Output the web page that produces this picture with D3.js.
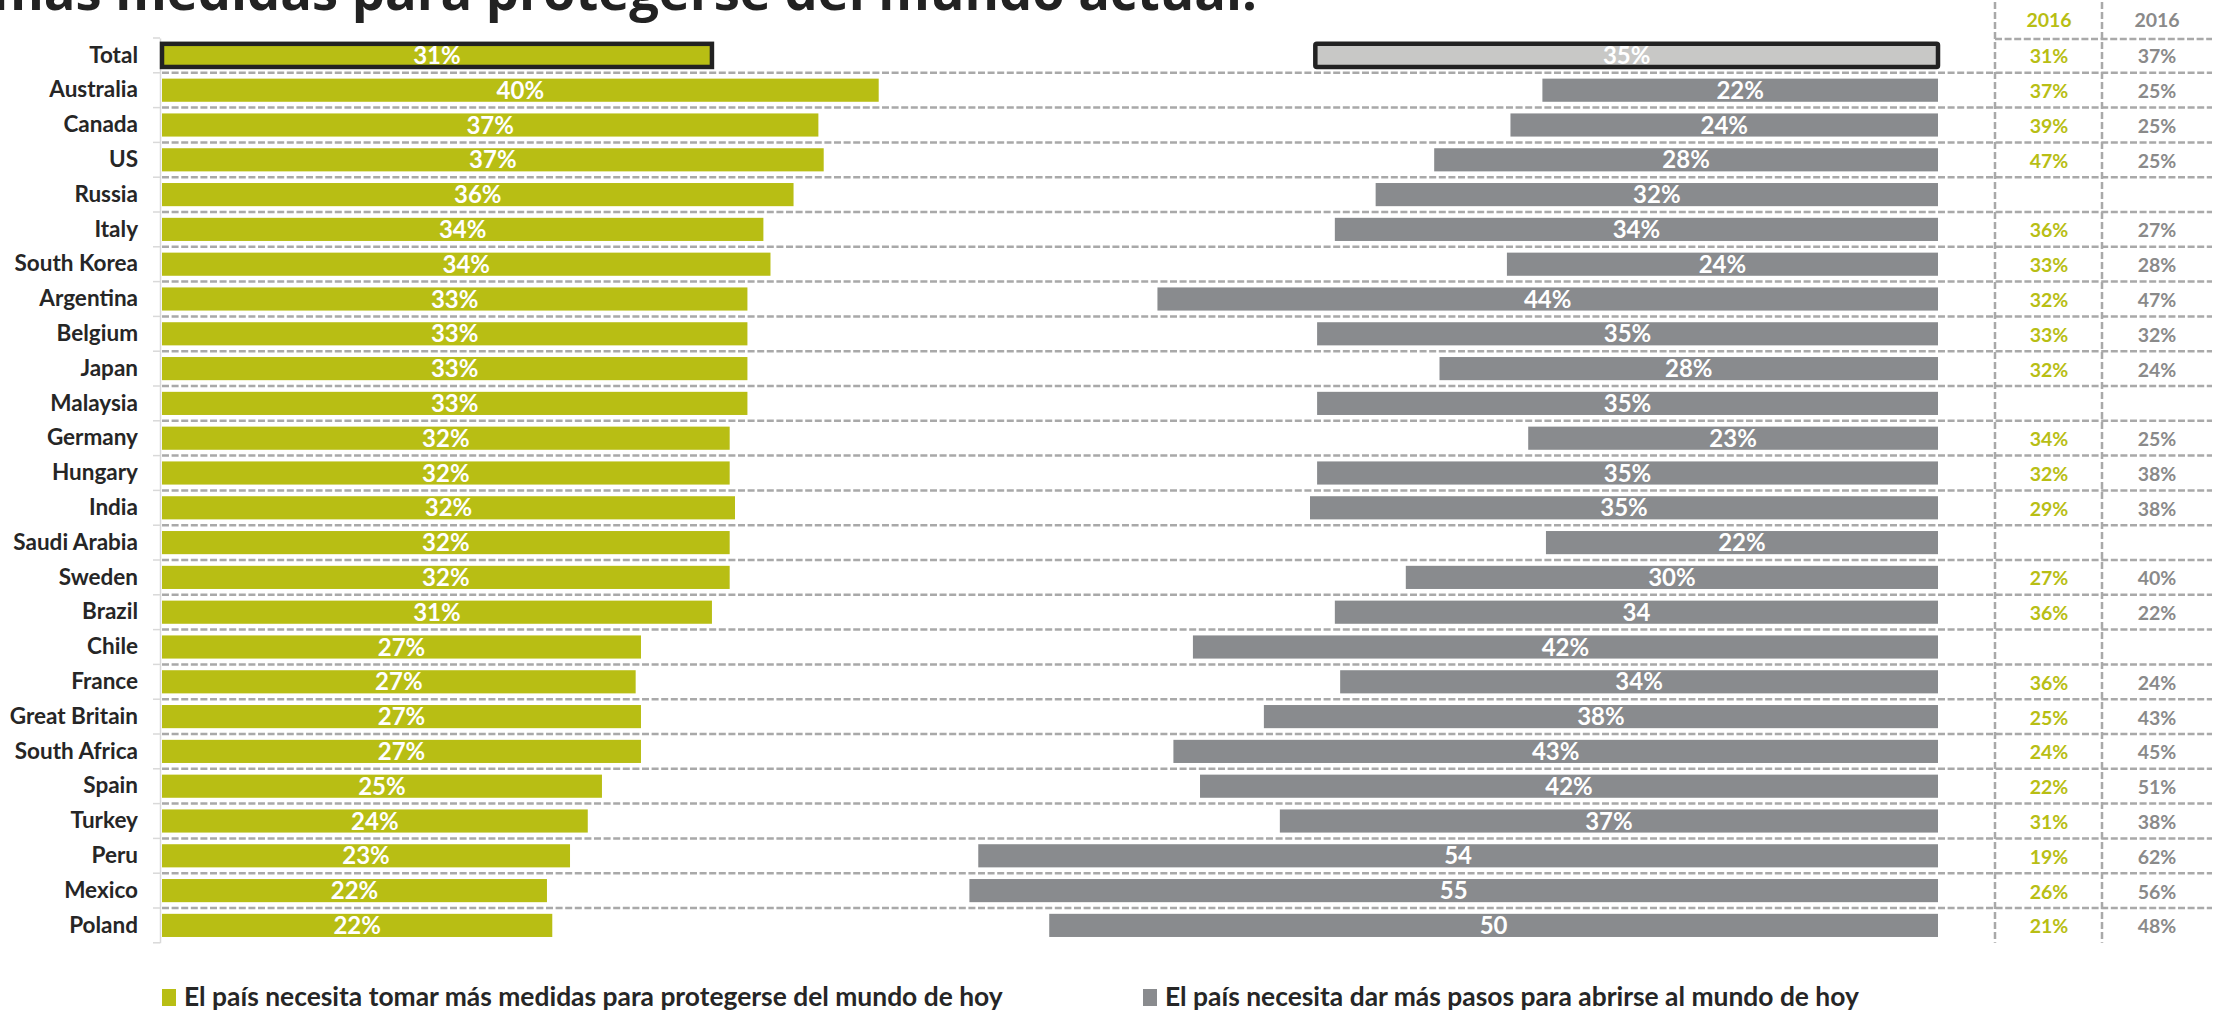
<!DOCTYPE html>
<html>
<head>
<meta charset="utf-8">
<script src="https://cdn.jsdelivr.net/npm/d3@7/dist/d3.min.js"></script>
<style>
  html, body { margin: 0; padding: 0; background: #ffffff; overflow: hidden; }
  svg { display: block; }
</style>
</head>
<body>
<svg id="chart" width="2223" height="1011"></svg>
<script>
// ---------------- DATA ----------------
const countries = ["Total","Australia","Canada","US","Russia","Italy","South Korea","Argentina","Belgium","Japan","Malaysia","Germany","Hungary","India","Saudi Arabia","Sweden","Brazil","Chile","France","Great Britain","South Africa","Spain","Turkey","Peru","Mexico","Poland"];

// "El país necesita tomar más medidas para protegerse del mundo de hoy" (bar lengths)
const protectValues = [31.0,40.4,37.0,37.3,35.6,33.9,34.3,33.0,33.0,33.0,33.0,32.0,32.0,32.3,32.0,32.0,31.0,27.0,26.7,27.0,27.0,24.8,24.0,23.0,21.7,22.0];
const protectLabels = ["31%","40%","37%","37%","36%","34%","34%","33%","33%","33%","33%","32%","32%","32%","32%","32%","31%","27%","27%","27%","27%","25%","24%","23%","22%","22%"];

// "El país necesita dar más pasos para abrirse al mundo de hoy" (bar lengths)
const openValues = [35.1,22.3,24.1,28.4,31.7,34.0,24.3,44.0,35.0,28.1,35.0,23.1,35.0,35.4,22.1,30.0,34.0,42.0,33.7,38.0,43.1,41.6,37.1,54.1,54.6,50.1];
const openLabels = ["35%","22%","24%","28%","32%","34%","24%","44%","35%","28%","35%","23%","35%","35%","22%","30%","34","42%","34%","38%","43%","42%","37%","54","55","50"];

// 2016 comparison columns
const tableHeaders = ["2016","2016"];
const protect2016 = [31,37,39,47,null,36,33,32,33,32,null,34,32,29,null,27,36,null,36,25,24,22,31,19,26,21];
const open2016    = [37,25,25,25,null,27,28,47,32,24,null,25,38,38,null,40,22,null,24,43,45,51,38,62,56,48];

const legendLabels = ["El país necesita tomar más medidas para protegerse del mundo de hoy",
                      "El país necesita dar más pasos para abrirse al mundo de hoy"];
const titleText = "más medidas para protegerse del mundo actual.";

// ---------------- STYLE ----------------
const GREEN = "#b8be14";
const GRAY = "#898b8e";
const GRAY_TOTAL = "#c8c8c6";
const DARK = "#262626";
const DASH = "#a9a9a9";
const labelFont = "Lato, 'Open Sans', sans-serif";

const svg = d3.select("#chart");

// ---------------- SCALES ----------------
const y = d3.scaleBand().domain(countries).range([38, 942.8]).padding(0);
const barH = y.bandwidth() * 0.665;
const xG = d3.scaleLinear().domain([0, 100]).range([162, 162 + 1774]);
const xO = d3.scaleLinear().domain([0, 100]).range([1938, 1938 - 1774]);
const col1 = 2049, col2 = 2157;
const vLine1 = 1995, vLine2 = 2102;
const rightEdge = 2212;

// ---------------- TITLE (cut off at the top, as in the source) ----------------
svg.append("text")
  .attr("x", 1257).attr("y", 10)
  .attr("text-anchor", "end")
  .style("font-family", "'Open Sans', sans-serif")
  .style("font-weight", 700)
  .style("font-size", "52.5px")
  .style("fill", "#222222")
  .text(titleText);

// ---------------- GRID (dashed separators) ----------------
const boundaries = countries.slice(1).map(c => y(c));
svg.append("g").selectAll("line").data(boundaries).join("line")
  .attr("x1", 162).attr("x2", rightEdge)
  .attr("y1", d => d).attr("y2", d => d)
  .attr("stroke", DASH).attr("stroke-width", 2.5)
  .attr("stroke-dasharray", "7,2.6");

// header separator in table
svg.append("line")
  .attr("x1", vLine1).attr("x2", rightEdge)
  .attr("y1", y("Total") + 1).attr("y2", y("Total") + 1)
  .attr("stroke", DASH).attr("stroke-width", 2.5)
  .attr("stroke-dasharray", "7,2.6");

// vertical table lines
svg.append("g").selectAll("line").data([vLine1, vLine2]).join("line")
  .attr("x1", d => d).attr("x2", d => d)
  .attr("y1", 2).attr("y2", y.range()[1])
  .attr("stroke", DASH).attr("stroke-width", 2.5)
  .attr("stroke-dasharray", "7,3");

// ---------------- Y AXIS ----------------
const yAxis = d3.axisLeft(y).tickSize(0).tickPadding(22);
const axisG = svg.append("g").attr("transform", "translate(160,0)").call(yAxis);
axisG.select(".domain").attr("stroke", "#d9d9d9").attr("stroke-width", 1.5);
axisG.selectAll(".tick text")
  .style("font-family", labelFont)
  .style("font-weight", 700)
  .style("font-size", "22.5px")
  .style("fill", DARK);
// small boundary ticks
svg.append("g").selectAll("line").data([y.range()[0], ...boundaries, y.range()[1]]).join("line")
  .attr("x1", 153).attr("x2", 160)
  .attr("y1", d => d).attr("y2", d => d)
  .attr("stroke", "#d9d9d9").attr("stroke-width", 1.5);

// ---------------- BARS ----------------
const rows = countries.map((c, i) => ({
  c, i, p: protectValues[i], pl: protectLabels[i], o: openValues[i], ol: openLabels[i],
  p16: protect2016[i], o16: open2016[i]
}));

const barY = d => y(d.c) + (y.bandwidth() - barH) / 2;

svg.append("g").selectAll("rect").data(rows).join("rect")
  .attr("x", xG(0))
  .attr("y", barY)
  .attr("width", d => xG(d.p) - xG(0))
  .attr("height", barH)
  .attr("fill", GREEN)
  .attr("stroke", d => d.i === 0 ? "#222222" : "none")
  .attr("stroke-width", d => d.i === 0 ? 4.5 : 0);

svg.append("g").selectAll("rect").data(rows).join("rect")
  .attr("x", d => xO(d.o))
  .attr("y", barY)
  .attr("width", d => xO(0) - xO(d.o))
  .attr("height", barH)
  .attr("fill", d => d.i === 0 ? GRAY_TOTAL : GRAY)
  .attr("stroke", d => d.i === 0 ? "#222222" : "none")
  .attr("stroke-width", d => d.i === 0 ? 4.5 : 0)
  .attr("rx", d => d.i === 0 ? 1.5 : 0);

// bar labels
const barLabelStyle = sel => sel
  .attr("text-anchor", "middle")
  .attr("dy", "0.36em")
  .style("font-family", labelFont)
  .style("font-weight", 700)
  .style("font-size", "24px")
  .style("fill", "#ffffff");

svg.append("g").selectAll("text").data(rows).join("text")
  .attr("x", d => (xG(0) + xG(d.p)) / 2)
  .attr("y", d => y(d.c) + y.bandwidth() / 2)
  .call(barLabelStyle)
  .text(d => d.pl);

svg.append("g").selectAll("text").data(rows).join("text")
  .attr("x", d => (xO(0) + xO(d.o)) / 2)
  .attr("y", d => y(d.c) + y.bandwidth() / 2)
  .call(barLabelStyle)
  .text(d => d.ol);

// ---------------- TABLE ----------------
const tableStyle = (sel, color) => sel
  .attr("text-anchor", "middle")
  .attr("dy", "0.36em")
  .style("font-family", labelFont)
  .style("font-weight", 700)
  .style("font-size", "19.5px")
  .style("fill", color);

svg.append("text").attr("x", col1).attr("y", 20).call(tableStyle, GREEN).text(tableHeaders[0]);
svg.append("text").attr("x", col2).attr("y", 20).call(tableStyle, "#8a8a8a").text(tableHeaders[1]);

svg.append("g").selectAll("text").data(rows.filter(d => d.p16 != null)).join("text")
  .attr("x", col1)
  .attr("y", d => y(d.c) + y.bandwidth() / 2 + 1)
  .call(tableStyle, GREEN)
  .text(d => d.p16 + "%");

svg.append("g").selectAll("text").data(rows.filter(d => d.o16 != null)).join("text")
  .attr("x", col2)
  .attr("y", d => y(d.c) + y.bandwidth() / 2 + 1)
  .call(tableStyle, "#8a8a8a")
  .text(d => d.o16 + "%");

// ---------------- LEGEND ----------------
const legend = svg.append("g");
const legendItems = [
  { x: 162, color: GREEN, text: legendLabels[0] },
  { x: 1143, color: GRAY, text: legendLabels[1] }
];
legendItems.forEach(it => {
  legend.append("rect").attr("x", it.x).attr("y", 989).attr("width", 14).attr("height", 17).attr("fill", it.color);
  legend.append("text").attr("x", it.x + 22).attr("y", 1006)
    .style("font-family", labelFont)
    .style("font-weight", 700)
    .style("font-size", "26.4px")
    .style("fill", DARK)
    .text(it.text);
});
</script>
</body>
</html>
